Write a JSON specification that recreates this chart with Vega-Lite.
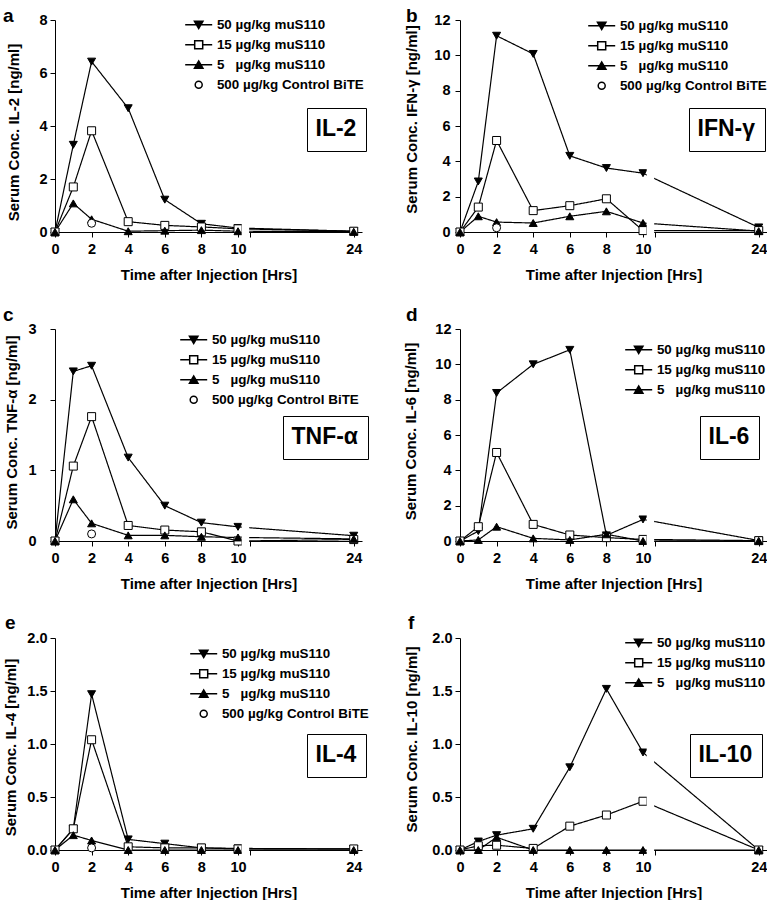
{
"$schema": "https://vega.github.io/schema/vega-lite/v6.json",
"padding": {"left": 3, "top": 7, "right": 0, "bottom": 0},
"datasets": {"cyto": [
{"panel":"IL-2","time":0,"dose":"50 µg/kg muS110","conc":0},
{"panel":"IL-2","time":1,"dose":"50 µg/kg muS110","conc":3.29},
{"panel":"IL-2","time":2,"dose":"50 µg/kg muS110","conc":6.43},
{"panel":"IL-2","time":4,"dose":"50 µg/kg muS110","conc":4.67},
{"panel":"IL-2","time":6,"dose":"50 µg/kg muS110","conc":1.22},
{"panel":"IL-2","time":8,"dose":"50 µg/kg muS110","conc":0.31},
{"panel":"IL-2","time":10,"dose":"50 µg/kg muS110","conc":0.15},
{"panel":"IL-2","time":24,"dose":"50 µg/kg muS110","conc":0.03},
{"panel":"IL-2","time":0,"dose":"15 µg/kg muS110","conc":0},
{"panel":"IL-2","time":1,"dose":"15 µg/kg muS110","conc":1.70},
{"panel":"IL-2","time":2,"dose":"15 µg/kg muS110","conc":3.82},
{"panel":"IL-2","time":4,"dose":"15 µg/kg muS110","conc":0.39},
{"panel":"IL-2","time":6,"dose":"15 µg/kg muS110","conc":0.25},
{"panel":"IL-2","time":8,"dose":"15 µg/kg muS110","conc":0.19},
{"panel":"IL-2","time":10,"dose":"15 µg/kg muS110","conc":0.12},
{"panel":"IL-2","time":24,"dose":"15 µg/kg muS110","conc":0.03},
{"panel":"IL-2","time":0,"dose":"5\u00a0\u00a0\u00a0µg/kg muS110","conc":0},
{"panel":"IL-2","time":1,"dose":"5\u00a0\u00a0\u00a0µg/kg muS110","conc":1.08},
{"panel":"IL-2","time":2,"dose":"5\u00a0\u00a0\u00a0µg/kg muS110","conc":0.48},
{"panel":"IL-2","time":4,"dose":"5\u00a0\u00a0\u00a0µg/kg muS110","conc":0.03},
{"panel":"IL-2","time":6,"dose":"5\u00a0\u00a0\u00a0µg/kg muS110","conc":0.05},
{"panel":"IL-2","time":8,"dose":"5\u00a0\u00a0\u00a0µg/kg muS110","conc":0.07},
{"panel":"IL-2","time":10,"dose":"5\u00a0\u00a0\u00a0µg/kg muS110","conc":0.03},
{"panel":"IL-2","time":24,"dose":"5\u00a0\u00a0\u00a0µg/kg muS110","conc":0.01},
{"panel":"IL-2","time":2,"dose":"500 µg/kg Control BiTE","conc":0.33},

{"panel":"IFN-γ","time":0,"dose":"50 µg/kg muS110","conc":0},
{"panel":"IFN-γ","time":1,"dose":"50 µg/kg muS110","conc":2.86},
{"panel":"IFN-γ","time":2,"dose":"50 µg/kg muS110","conc":11.11},
{"panel":"IFN-γ","time":4,"dose":"50 µg/kg muS110","conc":10.08},
{"panel":"IFN-γ","time":6,"dose":"50 µg/kg muS110","conc":4.31},
{"panel":"IFN-γ","time":8,"dose":"50 µg/kg muS110","conc":3.62},
{"panel":"IFN-γ","time":10,"dose":"50 µg/kg muS110","conc":3.33},
{"panel":"IFN-γ","time":24,"dose":"50 µg/kg muS110","conc":0.26},
{"panel":"IFN-γ","time":0,"dose":"15 µg/kg muS110","conc":0},
{"panel":"IFN-γ","time":1,"dose":"15 µg/kg muS110","conc":1.41},
{"panel":"IFN-γ","time":2,"dose":"15 µg/kg muS110","conc":5.18},
{"panel":"IFN-γ","time":4,"dose":"15 µg/kg muS110","conc":1.21},
{"panel":"IFN-γ","time":6,"dose":"15 µg/kg muS110","conc":1.49},
{"panel":"IFN-γ","time":8,"dose":"15 µg/kg muS110","conc":1.88},
{"panel":"IFN-γ","time":10,"dose":"15 µg/kg muS110","conc":0.08},
{"panel":"IFN-γ","time":24,"dose":"15 µg/kg muS110","conc":0.08},
{"panel":"IFN-γ","time":0,"dose":"5\u00a0\u00a0\u00a0µg/kg muS110","conc":0},
{"panel":"IFN-γ","time":1,"dose":"5\u00a0\u00a0\u00a0µg/kg muS110","conc":0.89},
{"panel":"IFN-γ","time":2,"dose":"5\u00a0\u00a0\u00a0µg/kg muS110","conc":0.56},
{"panel":"IFN-γ","time":4,"dose":"5\u00a0\u00a0\u00a0µg/kg muS110","conc":0.51},
{"panel":"IFN-γ","time":6,"dose":"5\u00a0\u00a0\u00a0µg/kg muS110","conc":0.89},
{"panel":"IFN-γ","time":8,"dose":"5\u00a0\u00a0\u00a0µg/kg muS110","conc":1.17},
{"panel":"IFN-γ","time":10,"dose":"5\u00a0\u00a0\u00a0µg/kg muS110","conc":0.51},
{"panel":"IFN-γ","time":24,"dose":"5\u00a0\u00a0\u00a0µg/kg muS110","conc":0.05},
{"panel":"IFN-γ","time":2,"dose":"500 µg/kg Control BiTE","conc":0.24},

{"panel":"TNF-α","time":0,"dose":"50 µg/kg muS110","conc":0},
{"panel":"TNF-α","time":1,"dose":"50 µg/kg muS110","conc":2.40},
{"panel":"TNF-α","time":2,"dose":"50 µg/kg muS110","conc":2.48},
{"panel":"TNF-α","time":4,"dose":"50 µg/kg muS110","conc":1.18},
{"panel":"TNF-α","time":6,"dose":"50 µg/kg muS110","conc":0.50},
{"panel":"TNF-α","time":8,"dose":"50 µg/kg muS110","conc":0.26},
{"panel":"TNF-α","time":10,"dose":"50 µg/kg muS110","conc":0.20},
{"panel":"TNF-α","time":24,"dose":"50 µg/kg muS110","conc":0.075},
{"panel":"TNF-α","time":0,"dose":"15 µg/kg muS110","conc":0},
{"panel":"TNF-α","time":1,"dose":"15 µg/kg muS110","conc":1.06},
{"panel":"TNF-α","time":2,"dose":"15 µg/kg muS110","conc":1.76},
{"panel":"TNF-α","time":4,"dose":"15 µg/kg muS110","conc":0.22},
{"panel":"TNF-α","time":6,"dose":"15 µg/kg muS110","conc":0.155},
{"panel":"TNF-α","time":8,"dose":"15 µg/kg muS110","conc":0.13},
{"panel":"TNF-α","time":10,"dose":"15 µg/kg muS110","conc":0.0},
{"panel":"TNF-α","time":24,"dose":"15 µg/kg muS110","conc":0.02},
{"panel":"TNF-α","time":0,"dose":"5\u00a0\u00a0\u00a0µg/kg muS110","conc":0},
{"panel":"TNF-α","time":1,"dose":"5\u00a0\u00a0\u00a0µg/kg muS110","conc":0.59},
{"panel":"TNF-α","time":2,"dose":"5\u00a0\u00a0\u00a0µg/kg muS110","conc":0.25},
{"panel":"TNF-α","time":4,"dose":"5\u00a0\u00a0\u00a0µg/kg muS110","conc":0.08},
{"panel":"TNF-α","time":6,"dose":"5\u00a0\u00a0\u00a0µg/kg muS110","conc":0.08},
{"panel":"TNF-α","time":8,"dose":"5\u00a0\u00a0\u00a0µg/kg muS110","conc":0.06},
{"panel":"TNF-α","time":10,"dose":"5\u00a0\u00a0\u00a0µg/kg muS110","conc":0.05},
{"panel":"TNF-α","time":24,"dose":"5\u00a0\u00a0\u00a0µg/kg muS110","conc":0.03},
{"panel":"TNF-α","time":2,"dose":"500 µg/kg Control BiTE","conc":0.10},

{"panel":"IL-6","time":0,"dose":"50 µg/kg muS110","conc":0},
{"panel":"IL-6","time":1,"dose":"50 µg/kg muS110","conc":0.56},
{"panel":"IL-6","time":2,"dose":"50 µg/kg muS110","conc":8.38},
{"panel":"IL-6","time":4,"dose":"50 µg/kg muS110","conc":10.0},
{"panel":"IL-6","time":6,"dose":"50 µg/kg muS110","conc":10.82},
{"panel":"IL-6","time":8,"dose":"50 µg/kg muS110","conc":0.32},
{"panel":"IL-6","time":10,"dose":"50 µg/kg muS110","conc":1.22},
{"panel":"IL-6","time":24,"dose":"50 µg/kg muS110","conc":0.03},
{"panel":"IL-6","time":0,"dose":"15 µg/kg muS110","conc":0},
{"panel":"IL-6","time":1,"dose":"15 µg/kg muS110","conc":0.81},
{"panel":"IL-6","time":2,"dose":"15 µg/kg muS110","conc":5.01},
{"panel":"IL-6","time":4,"dose":"15 µg/kg muS110","conc":0.94},
{"panel":"IL-6","time":6,"dose":"15 µg/kg muS110","conc":0.34},
{"panel":"IL-6","time":8,"dose":"15 µg/kg muS110","conc":0.19},
{"panel":"IL-6","time":10,"dose":"15 µg/kg muS110","conc":0.09},
{"panel":"IL-6","time":24,"dose":"15 µg/kg muS110","conc":0.02},
{"panel":"IL-6","time":0,"dose":"5\u00a0\u00a0\u00a0µg/kg muS110","conc":0},
{"panel":"IL-6","time":1,"dose":"5\u00a0\u00a0\u00a0µg/kg muS110","conc":0.06},
{"panel":"IL-6","time":2,"dose":"5\u00a0\u00a0\u00a0µg/kg muS110","conc":0.81},
{"panel":"IL-6","time":4,"dose":"5\u00a0\u00a0\u00a0µg/kg muS110","conc":0.15},
{"panel":"IL-6","time":6,"dose":"5\u00a0\u00a0\u00a0µg/kg muS110","conc":0.06},
{"panel":"IL-6","time":8,"dose":"5\u00a0\u00a0\u00a0µg/kg muS110","conc":0.38},
{"panel":"IL-6","time":10,"dose":"5\u00a0\u00a0\u00a0µg/kg muS110","conc":0.0},
{"panel":"IL-6","time":24,"dose":"5\u00a0\u00a0\u00a0µg/kg muS110","conc":0.01},

{"panel":"IL-4","time":0,"dose":"50 µg/kg muS110","conc":0},
{"panel":"IL-4","time":1,"dose":"50 µg/kg muS110","conc":0.20},
{"panel":"IL-4","time":2,"dose":"50 µg/kg muS110","conc":1.47},
{"panel":"IL-4","time":4,"dose":"50 µg/kg muS110","conc":0.10},
{"panel":"IL-4","time":6,"dose":"50 µg/kg muS110","conc":0.06},
{"panel":"IL-4","time":8,"dose":"50 µg/kg muS110","conc":0.02},
{"panel":"IL-4","time":10,"dose":"50 µg/kg muS110","conc":0.015},
{"panel":"IL-4","time":24,"dose":"50 µg/kg muS110","conc":0.01},
{"panel":"IL-4","time":0,"dose":"15 µg/kg muS110","conc":0},
{"panel":"IL-4","time":1,"dose":"15 µg/kg muS110","conc":0.20},
{"panel":"IL-4","time":2,"dose":"15 µg/kg muS110","conc":1.04},
{"panel":"IL-4","time":4,"dose":"15 µg/kg muS110","conc":0.03},
{"panel":"IL-4","time":6,"dose":"15 µg/kg muS110","conc":0.02},
{"panel":"IL-4","time":8,"dose":"15 µg/kg muS110","conc":0.02},
{"panel":"IL-4","time":10,"dose":"15 µg/kg muS110","conc":0.01},
{"panel":"IL-4","time":24,"dose":"15 µg/kg muS110","conc":0.01},
{"panel":"IL-4","time":0,"dose":"5\u00a0\u00a0\u00a0µg/kg muS110","conc":0},
{"panel":"IL-4","time":1,"dose":"5\u00a0\u00a0\u00a0µg/kg muS110","conc":0.14},
{"panel":"IL-4","time":2,"dose":"5\u00a0\u00a0\u00a0µg/kg muS110","conc":0.09},
{"panel":"IL-4","time":4,"dose":"5\u00a0\u00a0\u00a0µg/kg muS110","conc":0.0},
{"panel":"IL-4","time":6,"dose":"5\u00a0\u00a0\u00a0µg/kg muS110","conc":0.0},
{"panel":"IL-4","time":8,"dose":"5\u00a0\u00a0\u00a0µg/kg muS110","conc":0.0},
{"panel":"IL-4","time":10,"dose":"5\u00a0\u00a0\u00a0µg/kg muS110","conc":0.0},
{"panel":"IL-4","time":24,"dose":"5\u00a0\u00a0\u00a0µg/kg muS110","conc":0.0},
{"panel":"IL-4","time":2,"dose":"500 µg/kg Control BiTE","conc":0.02},

{"panel":"IL-10","time":0,"dose":"50 µg/kg muS110","conc":0},
{"panel":"IL-10","time":1,"dose":"50 µg/kg muS110","conc":0.08},
{"panel":"IL-10","time":2,"dose":"50 µg/kg muS110","conc":0.14},
{"panel":"IL-10","time":4,"dose":"50 µg/kg muS110","conc":0.20},
{"panel":"IL-10","time":6,"dose":"50 µg/kg muS110","conc":0.78},
{"panel":"IL-10","time":8,"dose":"50 µg/kg muS110","conc":1.52},
{"panel":"IL-10","time":10,"dose":"50 µg/kg muS110","conc":0.92},
{"panel":"IL-10","time":24,"dose":"50 µg/kg muS110","conc":0.0},
{"panel":"IL-10","time":0,"dose":"15 µg/kg muS110","conc":0},
{"panel":"IL-10","time":1,"dose":"15 µg/kg muS110","conc":0.04},
{"panel":"IL-10","time":2,"dose":"15 µg/kg muS110","conc":0.045},
{"panel":"IL-10","time":4,"dose":"15 µg/kg muS110","conc":0.015},
{"panel":"IL-10","time":6,"dose":"15 µg/kg muS110","conc":0.225},
{"panel":"IL-10","time":8,"dose":"15 µg/kg muS110","conc":0.33},
{"panel":"IL-10","time":10,"dose":"15 µg/kg muS110","conc":0.46},
{"panel":"IL-10","time":24,"dose":"15 µg/kg muS110","conc":0.0},
{"panel":"IL-10","time":0,"dose":"5\u00a0\u00a0\u00a0µg/kg muS110","conc":0},
{"panel":"IL-10","time":1,"dose":"5\u00a0\u00a0\u00a0µg/kg muS110","conc":0.0},
{"panel":"IL-10","time":2,"dose":"5\u00a0\u00a0\u00a0µg/kg muS110","conc":0.12},
{"panel":"IL-10","time":4,"dose":"5\u00a0\u00a0\u00a0µg/kg muS110","conc":0.0},
{"panel":"IL-10","time":6,"dose":"5\u00a0\u00a0\u00a0µg/kg muS110","conc":0.0},
{"panel":"IL-10","time":8,"dose":"5\u00a0\u00a0\u00a0µg/kg muS110","conc":0.0},
{"panel":"IL-10","time":10,"dose":"5\u00a0\u00a0\u00a0µg/kg muS110","conc":0.0},
{"panel":"IL-10","time":24,"dose":"5\u00a0\u00a0\u00a0µg/kg muS110","conc":0.0}
]},
"columns": 2,
"spacing": {"row": 97, "column": 98},
"bounds": "flush",
"resolve": {"scale": {"shape": "independent", "fill": "independent", "strokeDash": "independent"}},
"concat": [
{
 "width": 307, "height": 212,
 "title": {"text": "a", "dx": -52, "offset": -14},
 "data": {"name": "cyto"},
 "transform": [{"filter": "datum.panel === 'IL-2'"}],
 "resolve": {"scale": {"shape": "independent", "fill": "independent"}},
 "encoding": {
  "x": {"field": "time", "type": "quantitative", "scale": {"domain": [0, 10, 25], "range": [0, 183, 307], "nice": false, "zero": false}, "axis": {"values": [0, 2, 4, 6, 8, 10, 11.45, 24], "labelExpr": "datum.value === 11.45 ? '' : datum.label", "title": "Time after Injection [Hrs]"}},
  "y": {"field": "conc", "type": "quantitative", "scale": {"domain": [0, 8], "nice": false}, "axis": {"values": [0, 2, 4, 6, 8], "title": "Serum Conc. IL-2 [ng/ml]", "labelPadding": 3, "titlePadding": 17, "titleY": 112}}
 },
 "layer": [
  {"transform": [{"filter": "datum.dose !== '500 µg/kg Control BiTE'"}],
   "mark": {"type": "line", "color": "black", "strokeWidth": 1.2},
   "encoding": {"detail": {"field": "dose"},
    "strokeDash": {"field": "panel", "type": "nominal", "scale": {"range": [[1, 0]]},
     "legend": {"title": null, "orient": "none", "legendX": 252, "legendY": 88, "strokeColor": "black", "padding": 9.5, "symbolSize": 0, "symbolStrokeWidth": 0, "symbolOpacity": 0, "labelOffset": -24, "labelFontSize": 23}}}},
  {"mark": {"type": "point", "opacity": 1, "stroke": "black", "strokeWidth": 1, "size": 64},
   "encoding": {
    "shape": {"field": "dose", "type": "nominal", "scale": {"domain": ["50 µg/kg muS110", "15 µg/kg muS110", "5\u00a0\u00a0\u00a0µg/kg muS110", "500 µg/kg Control BiTE"], "range": ["triangle-down", "square", "triangle-up", "circle"]}, "legend": null},
    "fill": {"field": "dose", "type": "nominal", "scale": {"domain": ["50 µg/kg muS110", "15 µg/kg muS110", "5\u00a0\u00a0\u00a0µg/kg muS110", "500 µg/kg Control BiTE"], "range": ["black", "white", "black", "white"]}, "legend": null}
   }},
  {"transform": [{"filter": "false"}],
   "mark": {"type": "point", "opacity": 1, "stroke": "black", "strokeWidth": 1},
   "encoding": {
    "shape": {"field": "dose", "type": "nominal", "scale": {"domain": ["50 µg/kg muS110", "15 µg/kg muS110", "5\u00a0\u00a0\u00a0µg/kg muS110", "500 µg/kg Control BiTE"], "range": ["M-2.7,0H2.7M-0.85,-0.7H0.85L0,0.75Z", "M-2.7,0H-0.8M0.8,0H2.7M-0.8,-0.8H0.8V0.8H-0.8Z", "M-2.7,0H2.7M-0.85,0.7H0.85L0,-0.75Z", "M0.7,0A0.7,0.7,0,1,1,-0.7,0A0.7,0.7,0,1,1,0.7,0Z"]},
     "legend": {"title": null, "orient": "none", "direction": "vertical", "legendX": 137, "legendY": -2, "symbolSize": 100, "labelOffset": 11.5, "rowPadding": 5.0, "labelFontSize": 13.4,
      "encode": {"symbols": {"update": {"stroke": {"value": "black"}, "strokeWidth": {"value": 1}}}}}},
    "fill": {"field": "dose", "type": "nominal", "scale": {"domain": ["50 µg/kg muS110", "15 µg/kg muS110", "5\u00a0\u00a0\u00a0µg/kg muS110", "500 µg/kg Control BiTE"], "range": ["black", "white", "black", "white"]}, "legend": null}
   }},
  {"transform": [{"filter": "datum.time === 0 && datum.dose === '50 µg/kg muS110'"}],
   "mark": {"type": "rect", "fill": "white", "opacity": 1},
   "encoding": {"x": {"datum": 10.45}, "x2": {"datum": 11.35}, "y": {"datum": 8}, "y2": {"datum": -0.3}}}
 ]
},
{
 "width": 307, "height": 212,
 "title": {"text": "b", "dx": -54, "offset": -14},
 "data": {"name": "cyto"},
 "transform": [{"filter": "datum.panel === 'IFN-γ'"}],
 "resolve": {"scale": {"shape": "independent", "fill": "independent"}},
 "encoding": {
  "x": {"field": "time", "type": "quantitative", "scale": {"domain": [0, 10, 25], "range": [0, 183, 307], "nice": false, "zero": false}, "axis": {"values": [0, 2, 4, 6, 8, 10, 11.45, 24], "labelExpr": "datum.value === 11.45 ? '' : datum.label", "title": "Time after Injection [Hrs]"}},
  "y": {"field": "conc", "type": "quantitative", "scale": {"domain": [0, 12], "nice": false}, "axis": {"values": [0, 2, 4, 6, 8, 10, 12], "title": "Serum Conc. IFN-γ [ng/ml]", "labelPadding": 5, "titlePadding": 14.5, "titleY": 99}}
 },
 "layer": [
  {"transform": [{"filter": "datum.dose !== '500 µg/kg Control BiTE'"}],
   "mark": {"type": "line", "color": "black", "strokeWidth": 1.2},
   "encoding": {"detail": {"field": "dose"},
    "strokeDash": {"field": "panel", "type": "nominal", "scale": {"range": [[1, 0]]},
     "legend": {"title": null, "orient": "none", "legendX": 229, "legendY": 88, "strokeColor": "black", "padding": 9.5, "symbolSize": 0, "symbolStrokeWidth": 0, "symbolOpacity": 0, "labelOffset": -24, "labelFontSize": 23}}}},
  {"mark": {"type": "point", "opacity": 1, "stroke": "black", "strokeWidth": 1, "size": 64},
   "encoding": {
    "shape": {"field": "dose", "type": "nominal", "scale": {"domain": ["50 µg/kg muS110", "15 µg/kg muS110", "5\u00a0\u00a0\u00a0µg/kg muS110", "500 µg/kg Control BiTE"], "range": ["triangle-down", "square", "triangle-up", "circle"]}, "legend": null},
    "fill": {"field": "dose", "type": "nominal", "scale": {"domain": ["50 µg/kg muS110", "15 µg/kg muS110", "5\u00a0\u00a0\u00a0µg/kg muS110", "500 µg/kg Control BiTE"], "range": ["black", "white", "black", "white"]}, "legend": null}
   }},
  {"transform": [{"filter": "false"}],
   "mark": {"type": "point", "opacity": 1, "stroke": "black", "strokeWidth": 1},
   "encoding": {
    "shape": {"field": "dose", "type": "nominal", "scale": {"domain": ["50 µg/kg muS110", "15 µg/kg muS110", "5\u00a0\u00a0\u00a0µg/kg muS110", "500 µg/kg Control BiTE"], "range": ["M-2.7,0H2.7M-0.85,-0.7H0.85L0,0.75Z", "M-2.7,0H-0.8M0.8,0H2.7M-0.8,-0.8H0.8V0.8H-0.8Z", "M-2.7,0H2.7M-0.85,0.7H0.85L0,-0.75Z", "M0.7,0A0.7,0.7,0,1,1,-0.7,0A0.7,0.7,0,1,1,0.7,0Z"]},
     "legend": {"title": null, "orient": "none", "direction": "vertical", "legendX": 135, "legendY": -1, "symbolSize": 100, "labelOffset": 11.5, "rowPadding": 5.0, "labelFontSize": 13.4,
      "encode": {"symbols": {"update": {"stroke": {"value": "black"}, "strokeWidth": {"value": 1}}}}}},
    "fill": {"field": "dose", "type": "nominal", "scale": {"domain": ["50 µg/kg muS110", "15 µg/kg muS110", "5\u00a0\u00a0\u00a0µg/kg muS110", "500 µg/kg Control BiTE"], "range": ["black", "white", "black", "white"]}, "legend": null}
   }},
  {"transform": [{"filter": "datum.time === 0 && datum.dose === '50 µg/kg muS110'"}],
   "mark": {"type": "rect", "fill": "white", "opacity": 1},
   "encoding": {"x": {"datum": 10.45}, "x2": {"datum": 11.35}, "y": {"datum": 12}, "y2": {"datum": -0.45}}}
 ]
},
{
 "width": 307, "height": 212,
 "title": {"text": "c", "dx": -52, "offset": -4},
 "data": {"name": "cyto"},
 "transform": [{"filter": "datum.panel === 'TNF-α'"}],
 "resolve": {"scale": {"shape": "independent", "fill": "independent"}},
 "encoding": {
  "x": {"field": "time", "type": "quantitative", "scale": {"domain": [0, 10, 25], "range": [0, 183, 307], "nice": false, "zero": false}, "axis": {"values": [0, 2, 4, 6, 8, 10, 11.45, 24], "labelExpr": "datum.value === 11.45 ? '' : datum.label", "title": "Time after Injection [Hrs]"}},
  "y": {"field": "conc", "type": "quantitative", "scale": {"domain": [0, 3], "nice": false}, "axis": {"values": [0, 1, 2, 3], "title": "Serum Conc. TNF-α [ng/ml]", "labelPadding": 14, "titlePadding": 8, "titleY": 103}}
 },
 "layer": [
  {"transform": [{"filter": "datum.dose !== '500 µg/kg Control BiTE'"}],
   "mark": {"type": "line", "color": "black", "strokeWidth": 1.2},
   "encoding": {"detail": {"field": "dose"},
    "strokeDash": {"field": "panel", "type": "nominal", "scale": {"range": [[1, 0]]},
     "legend": {"title": null, "orient": "none", "legendX": 228, "legendY": 87, "strokeColor": "black", "padding": 9.5, "symbolSize": 0, "symbolStrokeWidth": 0, "symbolOpacity": 0, "labelOffset": -24, "labelFontSize": 23}}}},
  {"mark": {"type": "point", "opacity": 1, "stroke": "black", "strokeWidth": 1, "size": 64},
   "encoding": {
    "shape": {"field": "dose", "type": "nominal", "scale": {"domain": ["50 µg/kg muS110", "15 µg/kg muS110", "5\u00a0\u00a0\u00a0µg/kg muS110", "500 µg/kg Control BiTE"], "range": ["triangle-down", "square", "triangle-up", "circle"]}, "legend": null},
    "fill": {"field": "dose", "type": "nominal", "scale": {"domain": ["50 µg/kg muS110", "15 µg/kg muS110", "5\u00a0\u00a0\u00a0µg/kg muS110", "500 µg/kg Control BiTE"], "range": ["black", "white", "black", "white"]}, "legend": null}
   }},
  {"transform": [{"filter": "false"}],
   "mark": {"type": "point", "opacity": 1, "stroke": "black", "strokeWidth": 1},
   "encoding": {
    "shape": {"field": "dose", "type": "nominal", "scale": {"domain": ["50 µg/kg muS110", "15 µg/kg muS110", "5\u00a0\u00a0\u00a0µg/kg muS110", "500 µg/kg Control BiTE"], "range": ["M-2.7,0H2.7M-0.85,-0.7H0.85L0,0.75Z", "M-2.7,0H-0.8M0.8,0H2.7M-0.8,-0.8H0.8V0.8H-0.8Z", "M-2.7,0H2.7M-0.85,0.7H0.85L0,-0.75Z", "M0.7,0A0.7,0.7,0,1,1,-0.7,0A0.7,0.7,0,1,1,0.7,0Z"]},
     "legend": {"title": null, "orient": "none", "direction": "vertical", "legendX": 132, "legendY": 4, "symbolSize": 100, "labelOffset": 11.5, "rowPadding": 5.0, "labelFontSize": 13.4,
      "encode": {"symbols": {"update": {"stroke": {"value": "black"}, "strokeWidth": {"value": 1}}}}}},
    "fill": {"field": "dose", "type": "nominal", "scale": {"domain": ["50 µg/kg muS110", "15 µg/kg muS110", "5\u00a0\u00a0\u00a0µg/kg muS110", "500 µg/kg Control BiTE"], "range": ["black", "white", "black", "white"]}, "legend": null}
   }},
  {"transform": [{"filter": "datum.time === 0 && datum.dose === '50 µg/kg muS110'"}],
   "mark": {"type": "rect", "fill": "white", "opacity": 1},
   "encoding": {"x": {"datum": 10.45}, "x2": {"datum": 11.35}, "y": {"datum": 3}, "y2": {"datum": -0.11}}}
 ]
},
{
 "width": 307, "height": 212,
 "title": {"text": "d", "dx": -54, "offset": -4},
 "data": {"name": "cyto"},
 "transform": [{"filter": "datum.panel === 'IL-6'"}],
 "resolve": {"scale": {"shape": "independent", "fill": "independent"}},
 "encoding": {
  "x": {"field": "time", "type": "quantitative", "scale": {"domain": [0, 10, 25], "range": [0, 183, 307], "nice": false, "zero": false}, "axis": {"values": [0, 2, 4, 6, 8, 10, 11.45, 24], "labelExpr": "datum.value === 11.45 ? '' : datum.label", "title": "Time after Injection [Hrs]"}},
  "y": {"field": "conc", "type": "quantitative", "scale": {"domain": [0, 12], "nice": false}, "axis": {"values": [0, 2, 4, 6, 8, 10, 12], "title": "Serum Conc. IL-6 [ng/ml]", "labelPadding": 4, "titlePadding": 16.5, "titleY": 102}}
 },
 "layer": [
  {"mark": {"type": "line", "color": "black", "strokeWidth": 1.2},
   "encoding": {"detail": {"field": "dose"},
    "strokeDash": {"field": "panel", "type": "nominal", "scale": {"range": [[1, 0]]},
     "legend": {"title": null, "orient": "none", "legendX": 240, "legendY": 87, "strokeColor": "black", "padding": 9.5, "symbolSize": 0, "symbolStrokeWidth": 0, "symbolOpacity": 0, "labelOffset": -24, "labelFontSize": 23}}}},
  {"mark": {"type": "point", "opacity": 1, "stroke": "black", "strokeWidth": 1, "size": 64},
   "encoding": {
    "shape": {"field": "dose", "type": "nominal", "scale": {"domain": ["50 µg/kg muS110", "15 µg/kg muS110", "5\u00a0\u00a0\u00a0µg/kg muS110"], "range": ["triangle-down", "square", "triangle-up"]}, "legend": null},
    "fill": {"field": "dose", "type": "nominal", "scale": {"domain": ["50 µg/kg muS110", "15 µg/kg muS110", "5\u00a0\u00a0\u00a0µg/kg muS110"], "range": ["black", "white", "black"]}, "legend": null}
   }},
  {"transform": [{"filter": "false"}],
   "mark": {"type": "point", "opacity": 1, "stroke": "black", "strokeWidth": 1},
   "encoding": {
    "shape": {"field": "dose", "type": "nominal", "scale": {"domain": ["50 µg/kg muS110", "15 µg/kg muS110", "5\u00a0\u00a0\u00a0µg/kg muS110"], "range": ["M-2.7,0H2.7M-0.85,-0.7H0.85L0,0.75Z", "M-2.7,0H-0.8M0.8,0H2.7M-0.8,-0.8H0.8V0.8H-0.8Z", "M-2.7,0H2.7M-0.85,0.7H0.85L0,-0.75Z"]},
     "legend": {"title": null, "orient": "none", "direction": "vertical", "legendX": 172, "legendY": 14, "symbolSize": 100, "labelOffset": 11.5, "rowPadding": 5.0, "labelFontSize": 13.4,
      "encode": {"symbols": {"update": {"stroke": {"value": "black"}, "strokeWidth": {"value": 1}}}}}},
    "fill": {"field": "dose", "type": "nominal", "scale": {"domain": ["50 µg/kg muS110", "15 µg/kg muS110", "5\u00a0\u00a0\u00a0µg/kg muS110"], "range": ["black", "white", "black"]}, "legend": null}
   }},
  {"transform": [{"filter": "datum.time === 0 && datum.dose === '50 µg/kg muS110'"}],
   "mark": {"type": "rect", "fill": "white", "opacity": 1},
   "encoding": {"x": {"datum": 10.45}, "x2": {"datum": 11.35}, "y": {"datum": 12}, "y2": {"datum": -0.45}}}
 ]
},
{
 "width": 307, "height": 212,
 "title": {"text": "e", "dx": -50, "offset": -3},
 "data": {"name": "cyto"},
 "transform": [{"filter": "datum.panel === 'IL-4'"}],
 "resolve": {"scale": {"shape": "independent", "fill": "independent"}},
 "encoding": {
  "x": {"field": "time", "type": "quantitative", "scale": {"domain": [0, 10, 25], "range": [0, 183, 307], "nice": false, "zero": false}, "axis": {"values": [0, 2, 4, 6, 8, 10, 11.45, 24], "labelExpr": "datum.value === 11.45 ? '' : datum.label", "title": "Time after Injection [Hrs]"}},
  "y": {"field": "conc", "type": "quantitative", "scale": {"domain": [0, 2], "nice": false}, "axis": {"values": [0, 0.5, 1, 1.5, 2], "format": ".1f", "title": "Serum Conc. IL-4 [ng/ml]", "labelPadding": 3, "titlePadding": 8, "titleY": 109}}
 },
 "layer": [
  {"transform": [{"filter": "datum.dose !== '500 µg/kg Control BiTE'"}],
   "mark": {"type": "line", "color": "black", "strokeWidth": 1.2},
   "encoding": {"detail": {"field": "dose"},
    "strokeDash": {"field": "panel", "type": "nominal", "scale": {"range": [[1, 0]]},
     "legend": {"title": null, "orient": "none", "legendX": 252, "legendY": 96, "strokeColor": "black", "padding": 9.5, "symbolSize": 0, "symbolStrokeWidth": 0, "symbolOpacity": 0, "labelOffset": -24, "labelFontSize": 23}}}},
  {"mark": {"type": "point", "opacity": 1, "stroke": "black", "strokeWidth": 1, "size": 64},
   "encoding": {
    "shape": {"field": "dose", "type": "nominal", "scale": {"domain": ["50 µg/kg muS110", "15 µg/kg muS110", "5\u00a0\u00a0\u00a0µg/kg muS110", "500 µg/kg Control BiTE"], "range": ["triangle-down", "square", "triangle-up", "circle"]}, "legend": null},
    "fill": {"field": "dose", "type": "nominal", "scale": {"domain": ["50 µg/kg muS110", "15 µg/kg muS110", "5\u00a0\u00a0\u00a0µg/kg muS110", "500 µg/kg Control BiTE"], "range": ["black", "white", "black", "white"]}, "legend": null}
   }},
  {"transform": [{"filter": "false"}],
   "mark": {"type": "point", "opacity": 1, "stroke": "black", "strokeWidth": 1},
   "encoding": {
    "shape": {"field": "dose", "type": "nominal", "scale": {"domain": ["50 µg/kg muS110", "15 µg/kg muS110", "5\u00a0\u00a0\u00a0µg/kg muS110", "500 µg/kg Control BiTE"], "range": ["M-2.7,0H2.7M-0.85,-0.7H0.85L0,0.75Z", "M-2.7,0H-0.8M0.8,0H2.7M-0.8,-0.8H0.8V0.8H-0.8Z", "M-2.7,0H2.7M-0.85,0.7H0.85L0,-0.75Z", "M0.7,0A0.7,0.7,0,1,1,-0.7,0A0.7,0.7,0,1,1,0.7,0Z"]},
     "legend": {"title": null, "orient": "none", "direction": "vertical", "legendX": 142, "legendY": 9, "symbolSize": 100, "labelOffset": 11.5, "rowPadding": 5.0, "labelFontSize": 13.4,
      "encode": {"symbols": {"update": {"stroke": {"value": "black"}, "strokeWidth": {"value": 1}}}}}},
    "fill": {"field": "dose", "type": "nominal", "scale": {"domain": ["50 µg/kg muS110", "15 µg/kg muS110", "5\u00a0\u00a0\u00a0µg/kg muS110", "500 µg/kg Control BiTE"], "range": ["black", "white", "black", "white"]}, "legend": null}
   }},
  {"transform": [{"filter": "datum.time === 0 && datum.dose === '50 µg/kg muS110'"}],
   "mark": {"type": "rect", "fill": "white", "opacity": 1},
   "encoding": {"x": {"datum": 10.45}, "x2": {"datum": 11.35}, "y": {"datum": 2}, "y2": {"datum": -0.075}}}
 ]
},
{
 "width": 307, "height": 212,
 "title": {"text": "f", "dx": -52, "offset": -3},
 "data": {"name": "cyto"},
 "transform": [{"filter": "datum.panel === 'IL-10'"}],
 "resolve": {"scale": {"shape": "independent", "fill": "independent"}},
 "encoding": {
  "x": {"field": "time", "type": "quantitative", "scale": {"domain": [0, 10, 25], "range": [0, 183, 307], "nice": false, "zero": false}, "axis": {"values": [0, 2, 4, 6, 8, 10, 11.45, 24], "labelExpr": "datum.value === 11.45 ? '' : datum.label", "title": "Time after Injection [Hrs]"}},
  "y": {"field": "conc", "type": "quantitative", "scale": {"domain": [0, 2], "nice": false}, "axis": {"values": [0, 0.5, 1, 1.5, 2], "format": ".1f", "title": "Serum Conc. IL-10 [ng/ml]", "labelPadding": 3, "titlePadding": 12, "titleY": 101}}
 },
 "layer": [
  {"mark": {"type": "line", "color": "black", "strokeWidth": 1.2},
   "encoding": {"detail": {"field": "dose"},
    "strokeDash": {"field": "panel", "type": "nominal", "scale": {"range": [[1, 0]]},
     "legend": {"title": null, "orient": "none", "legendX": 230, "legendY": 96, "strokeColor": "black", "padding": 9.5, "symbolSize": 0, "symbolStrokeWidth": 0, "symbolOpacity": 0, "labelOffset": -24, "labelFontSize": 23}}}},
  {"mark": {"type": "point", "opacity": 1, "stroke": "black", "strokeWidth": 1, "size": 64},
   "encoding": {
    "shape": {"field": "dose", "type": "nominal", "scale": {"domain": ["50 µg/kg muS110", "15 µg/kg muS110", "5\u00a0\u00a0\u00a0µg/kg muS110"], "range": ["triangle-down", "square", "triangle-up"]}, "legend": null},
    "fill": {"field": "dose", "type": "nominal", "scale": {"domain": ["50 µg/kg muS110", "15 µg/kg muS110", "5\u00a0\u00a0\u00a0µg/kg muS110"], "range": ["black", "white", "black"]}, "legend": null}
   }},
  {"transform": [{"filter": "false"}],
   "mark": {"type": "point", "opacity": 1, "stroke": "black", "strokeWidth": 1},
   "encoding": {
    "shape": {"field": "dose", "type": "nominal", "scale": {"domain": ["50 µg/kg muS110", "15 µg/kg muS110", "5\u00a0\u00a0\u00a0µg/kg muS110"], "range": ["M-2.7,0H2.7M-0.85,-0.7H0.85L0,0.75Z", "M-2.7,0H-0.8M0.8,0H2.7M-0.8,-0.8H0.8V0.8H-0.8Z", "M-2.7,0H2.7M-0.85,0.7H0.85L0,-0.75Z"]},
     "legend": {"title": null, "orient": "none", "direction": "vertical", "legendX": 172, "legendY": -2, "symbolSize": 100, "labelOffset": 11.5, "rowPadding": 5.0, "labelFontSize": 13.4,
      "encode": {"symbols": {"update": {"stroke": {"value": "black"}, "strokeWidth": {"value": 1}}}}}},
    "fill": {"field": "dose", "type": "nominal", "scale": {"domain": ["50 µg/kg muS110", "15 µg/kg muS110", "5\u00a0\u00a0\u00a0µg/kg muS110"], "range": ["black", "white", "black"]}, "legend": null}
   }},
  {"transform": [{"filter": "datum.time === 0 && datum.dose === '50 µg/kg muS110'"}],
   "mark": {"type": "rect", "fill": "white", "opacity": 1},
   "encoding": {"x": {"datum": 10.45}, "x2": {"datum": 11.35}, "y": {"datum": 2}, "y2": {"datum": -0.075}}}
 ]
}
],
"config": {
 "view": {"stroke": null},
 "font": "Liberation Sans",
 "axis": {"domainColor": "black", "tickColor": "black", "labelColor": "black", "titleColor": "black", "labelFont": "Liberation Sans", "titleFont": "Liberation Sans", "labelFontWeight": "bold", "titleFontWeight": "bold", "labelFontSize": 14.5, "titleFontSize": 15, "grid": false, "tickSize": 5, "domainWidth": 1, "tickWidth": 1, "labelOverlap": false},
 "axisX": {"labelFlush": false, "labelPadding": 5, "titlePadding": 11.5},
 "legend": {"labelFont": "Liberation Sans", "labelFontWeight": "bold", "labelColor": "black", "labelLimit": 0},
 "title": {"font": "Liberation Sans", "fontSize": 19, "fontWeight": "bold", "color": "black", "anchor": "start", "frame": "group", "baseline": "alphabetic"}
}
}
